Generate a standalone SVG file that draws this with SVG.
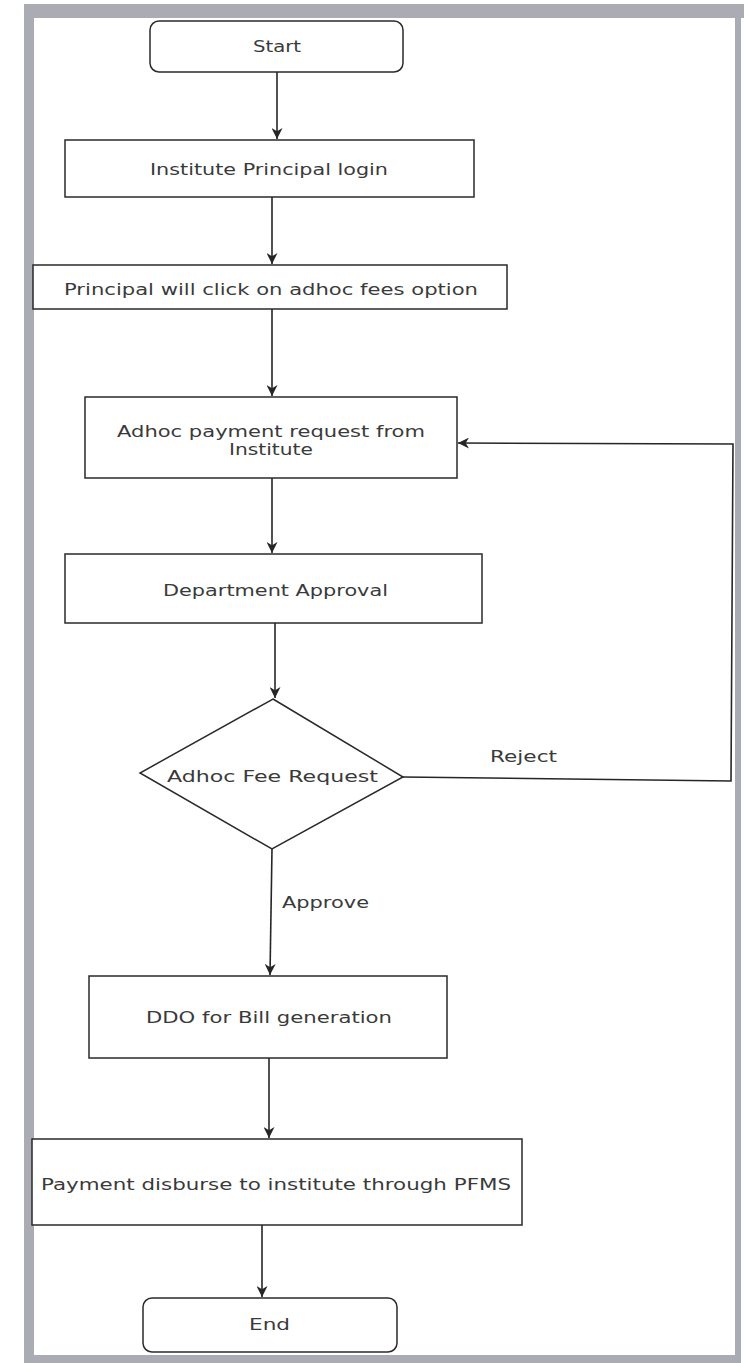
<svg xmlns="http://www.w3.org/2000/svg" width="749" height="1363" viewBox="0 0 749 1363">
<defs>
<style>
.frame{fill:#ababb3;}
.box{fill:#ffffff;stroke:#2a2a2a;stroke-width:1.5;}
.lbl{font-family:"DejaVu Sans","Liberation Sans",Arial,sans-serif;font-size:16.5px;fill:#3a3a3a;}
.edge{fill:none;stroke:#262626;stroke-width:1.6;}
</style>
<marker id="arr" viewBox="0 0 10 10" refX="10" refY="5" markerWidth="11" markerHeight="11" markerUnits="userSpaceOnUse" orient="auto">
<path d="M0,0 L10,5 L0,10 L3,5 Z" fill="#262626"/>
</marker>
</defs>
<rect x="0" y="0" width="749" height="1363" fill="#ffffff"/>
<g id="frame">
<rect class="frame" x="24" y="4" width="720" height="14"/>
<rect class="frame" x="24" y="4" width="10" height="1359"/>
<rect class="frame" x="735" y="4" width="6" height="1359"/>
<rect class="frame" x="24" y="1355" width="717" height="8"/>
</g>
<g id="connectors">
<line class="edge" x1="277" y1="72" x2="277" y2="139" marker-end="url(#arr)"/>
<line class="edge" x1="272" y1="197" x2="272" y2="264" marker-end="url(#arr)"/>
<line class="edge" x1="272" y1="309" x2="272" y2="396" marker-end="url(#arr)"/>
<line class="edge" x1="272" y1="478" x2="272" y2="553" marker-end="url(#arr)"/>
<line class="edge" x1="275" y1="623" x2="275" y2="698" marker-end="url(#arr)"/>
<line class="edge" x1="272" y1="849" x2="270" y2="975" marker-end="url(#arr)"/>
<line class="edge" x1="269" y1="1058" x2="269" y2="1138" marker-end="url(#arr)"/>
<line class="edge" x1="262" y1="1225" x2="262" y2="1297" marker-end="url(#arr)"/>
<polyline class="edge" points="403,777 731,781 733,444 458,443" marker-end="url(#arr)"/>
<text class="lbl" x="490" y="762" textLength="67" lengthAdjust="spacingAndGlyphs">Reject</text>
<text class="lbl" x="282" y="908" textLength="87" lengthAdjust="spacingAndGlyphs">Approve</text>
</g>
<g id="start">
<rect class="box" x="150" y="21" width="253" height="51" rx="9"/>
<text class="lbl" x="253" y="52" textLength="48" lengthAdjust="spacingAndGlyphs">Start</text>
</g>
<g id="login">
<rect class="box" x="65" y="140" width="409" height="57"/>
<text class="lbl" x="150" y="175" textLength="238" lengthAdjust="spacingAndGlyphs">Institute Principal login</text>
</g>
<g id="adhoc-option">
<rect class="box" x="33" y="265" width="474" height="44"/>
<text class="lbl" x="64" y="295" textLength="414" lengthAdjust="spacingAndGlyphs">Principal will click on adhoc fees option</text>
</g>
<g id="adhoc-request">
<rect class="box" x="85" y="397" width="372" height="81"/>
<text class="lbl" x="117" y="437" textLength="308" lengthAdjust="spacingAndGlyphs">Adhoc payment request from</text>
<text class="lbl" x="229" y="455" textLength="84" lengthAdjust="spacingAndGlyphs">Institute</text>
</g>
<g id="dept-approval">
<rect class="box" x="65" y="554" width="417" height="69"/>
<text class="lbl" x="163" y="596" textLength="225" lengthAdjust="spacingAndGlyphs">Department Approval</text>
</g>
<g id="decision">
<polygon class="box" points="273,699 403,777 272,849 140,773"/>
<text class="lbl" x="167" y="782" textLength="211" lengthAdjust="spacingAndGlyphs">Adhoc Fee Request</text>
</g>
<g id="ddo">
<rect class="box" x="89" y="976" width="358" height="82"/>
<text class="lbl" x="146" y="1023" textLength="246" lengthAdjust="spacingAndGlyphs">DDO for Bill generation</text>
</g>
<g id="payment">
<rect class="box" x="32" y="1139" width="490" height="86"/>
<text class="lbl" x="41" y="1190" textLength="470" lengthAdjust="spacingAndGlyphs">Payment disburse to institute through PFMS</text>
</g>
<g id="end">
<rect class="box" x="143" y="1298" width="254" height="54" rx="9"/>
<text class="lbl" x="249" y="1330" textLength="41" lengthAdjust="spacingAndGlyphs">End</text>
</g>
</svg>
